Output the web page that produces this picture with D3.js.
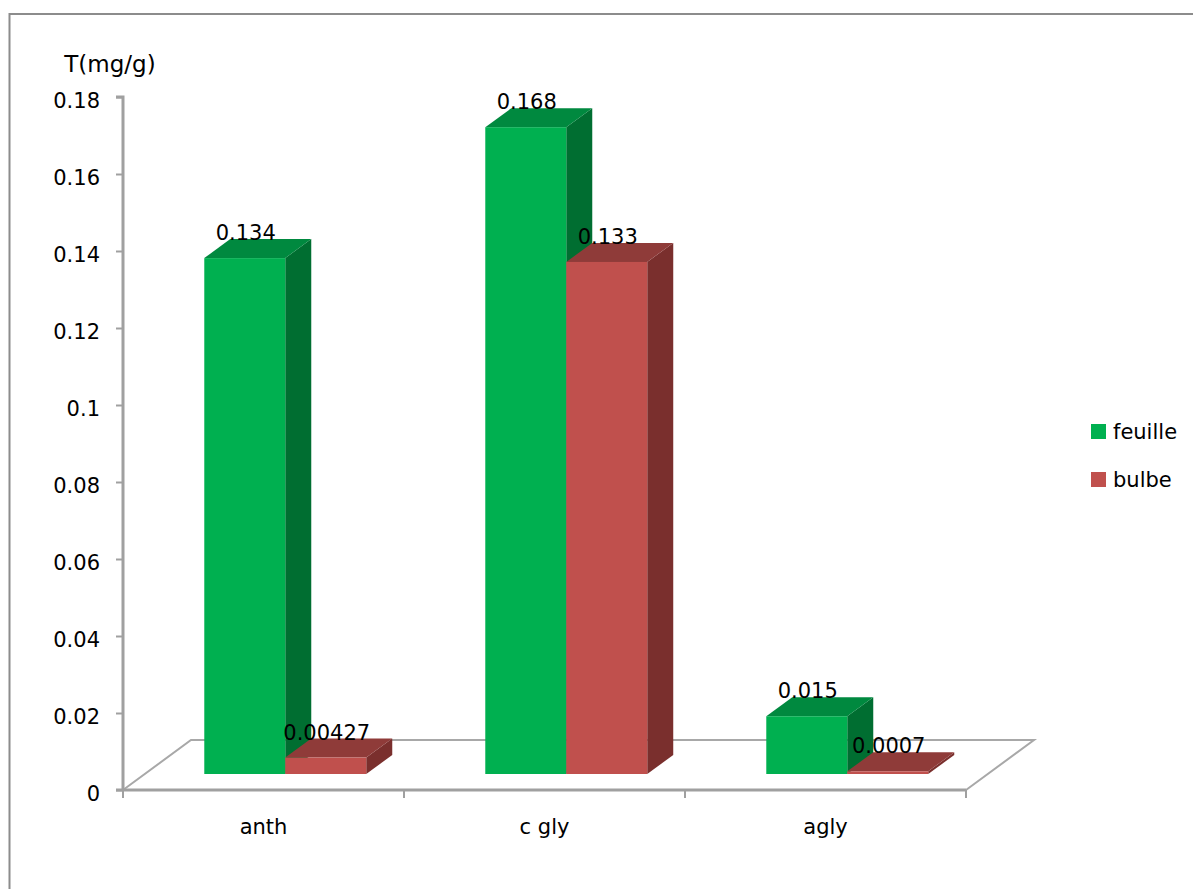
<!DOCTYPE html>
<html>
<head>
<meta charset="utf-8">
<script src="https://cdn.jsdelivr.net/npm/d3@7"></script>
<style>
  html, body { margin: 0; padding: 0; background: #fff; }
  svg { display: block; font-family: "DejaVu Sans", sans-serif; }
</style>
</head>
<body>
<svg id="chart" width="1193" height="889"></svg>
<script>
// Tannin content per extract type, leaf vs bulb
const categories = ["anth", "c gly", "agly"];
const seriesNames = ["feuille", "bulbe"];
const feuilleValues = [0.134, 0.168, 0.015];
const bulbeValues = [0.00427, 0.133, 0.0007];
const yTickValues = [0, 0.02, 0.04, 0.06, 0.08, 0.1, 0.12, 0.14, 0.16, 0.18];
const yTickLabels = ["0", "0.02", "0.04", "0.06", "0.08", "0.1", "0.12", "0.14", "0.16", "0.18"];
const yTitle = "T(mg/g)";

const seriesValues = [feuilleValues, bulbeValues];
const palette = {
  feuille: { front: "#00B050", top: "#00893F", side: "#006E31" },
  bulbe:   { front: "#C0504D", top: "#8F3B39", side: "#7A2F2D" }
};

const svg = d3.select("#chart");

// Plot geometry (front plane of the 3D floor)
const x0 = 123, x1 = 966, yBase = 790, yTop = 97;
const floorDx = 68, floorDy = -50;          // depth of the floor
const barShift = 0.32;                      // bars sit part-way into the floor
const shiftX = floorDx * barShift, shiftY = floorDy * barShift;
const barDx = 26, barDy = -19;              // depth of each bar

const y = d3.scaleLinear().domain([0, 0.18]).range([yBase, yTop]);
const xCat = d3.scaleBand().domain(categories).range([x0, x1]).padding(0);
const xSer = d3.scaleBand().domain(seriesNames).range([0, xCat.bandwidth()])
  .paddingInner(0).paddingOuter(0.735);

// Outer chart border (left and top visible)
svg.append("path")
  .attr("d", "M9.5,889 L9.5,14 L1193,14")
  .attr("fill", "none").attr("stroke", "#8c8c8c").attr("stroke-width", 2);

// Floor outline
const floor = svg.append("g").attr("fill", "none").attr("stroke", "#a8a8a8").attr("stroke-width", 2);
floor.append("path").attr("d",
  `M${x0},${yBase} L${x0 + floorDx},${yBase + floorDy} L${x1 + floorDx},${yBase + floorDy} L${x1},${yBase}`);

// Y axis
const yAxis = d3.axisLeft(y).tickValues(yTickValues).tickSize(7).tickPadding(0)
  .tickFormat((d, i) => yTickLabels[i]);
const gy = svg.append("g").attr("transform", `translate(${x0},0)`).call(yAxis);
gy.select(".domain").attr("stroke", "#a0a0a0").attr("stroke-width", 3)
  .attr("d", `M-7,${yTop}H0V${yBase}`);
gy.selectAll(".tick line").attr("stroke", "#a0a0a0").attr("stroke-width", 2);
gy.selectAll(".tick text").attr("x", -23).attr("dy", null).attr("y", 10)
  .attr("font-size", 21).attr("font-family", "DejaVu Sans").attr("fill", "#000");

// X axis (category boundaries as ticks)
svg.append("line").attr("x1", x0 - 7).attr("x2", x1).attr("y1", yBase).attr("y2", yBase)
  .attr("stroke", "#a0a0a0").attr("stroke-width", 3);
const bounds = categories.map(c => xCat(c)).concat([x1]);
svg.append("g").selectAll("line").data(bounds).join("line")
  .attr("x1", d => d).attr("x2", d => d).attr("y1", yBase).attr("y2", yBase + 8)
  .attr("stroke", "#a0a0a0").attr("stroke-width", 2);
svg.append("g").selectAll("text").data(categories).join("text")
  .attr("x", d => xCat(d) + xCat.bandwidth() / 2)
  .attr("y", 834)
  .attr("text-anchor", "middle").attr("font-size", 21).attr("fill", "#000")
  .text(d => d);

// Axis title
svg.append("text").attr("x", 110).attr("y", 72).attr("text-anchor", "middle")
  .attr("font-size", 23).attr("fill", "#000").text(yTitle);

// 3D bars
const bars = [];
categories.forEach((c, ci) => {
  seriesNames.forEach((s, si) => {
    bars.push({ cat: c, series: s, value: seriesValues[si][ci] });
  });
});

const gBars = svg.append("g");
bars.forEach(b => {
  const left = xCat(b.cat) + xSer(b.series) + shiftX;
  const right = left + xSer.bandwidth();
  const bottom = yBase + shiftY;
  const top = y(b.value) + shiftY;
  const col = palette[b.series];
  const g = gBars.append("g");
  // right side face
  g.append("path")
    .attr("d", `M${right},${bottom} L${right},${top} L${right + barDx},${top + barDy} L${right + barDx},${bottom + barDy} Z`)
    .attr("fill", col.side);
  // top face
  g.append("path")
    .attr("d", `M${left},${top} L${right},${top} L${right + barDx},${top + barDy} L${left + barDx},${top + barDy} Z`)
    .attr("fill", col.top);
  // front face
  g.append("rect")
    .attr("x", left).attr("y", top).attr("width", right - left).attr("height", bottom - top)
    .attr("fill", col.front);
  b.labelX = (left + right) / 2;
  b.labelY = top + barDy;
});

// Value labels
svg.append("g").selectAll("text").data(bars).join("text")
  .attr("x", d => d.labelX + 1)
  .attr("y", d => d.labelY + 1)
  .attr("text-anchor", "middle").attr("font-size", 21).attr("fill", "#000")
  .text(d => String(d.value));

// Legend
const legend = svg.append("g").selectAll("g").data(seriesNames).join("g")
  .attr("transform", (d, i) => `translate(1091,${424 + i * 48})`);
legend.append("rect").attr("width", 15).attr("height", 15).attr("fill", d => palette[d].front);
legend.append("text").attr("x", 22).attr("y", 15).attr("font-size", 21).attr("fill", "#000").text(d => d);
</script>
</body>
</html>
